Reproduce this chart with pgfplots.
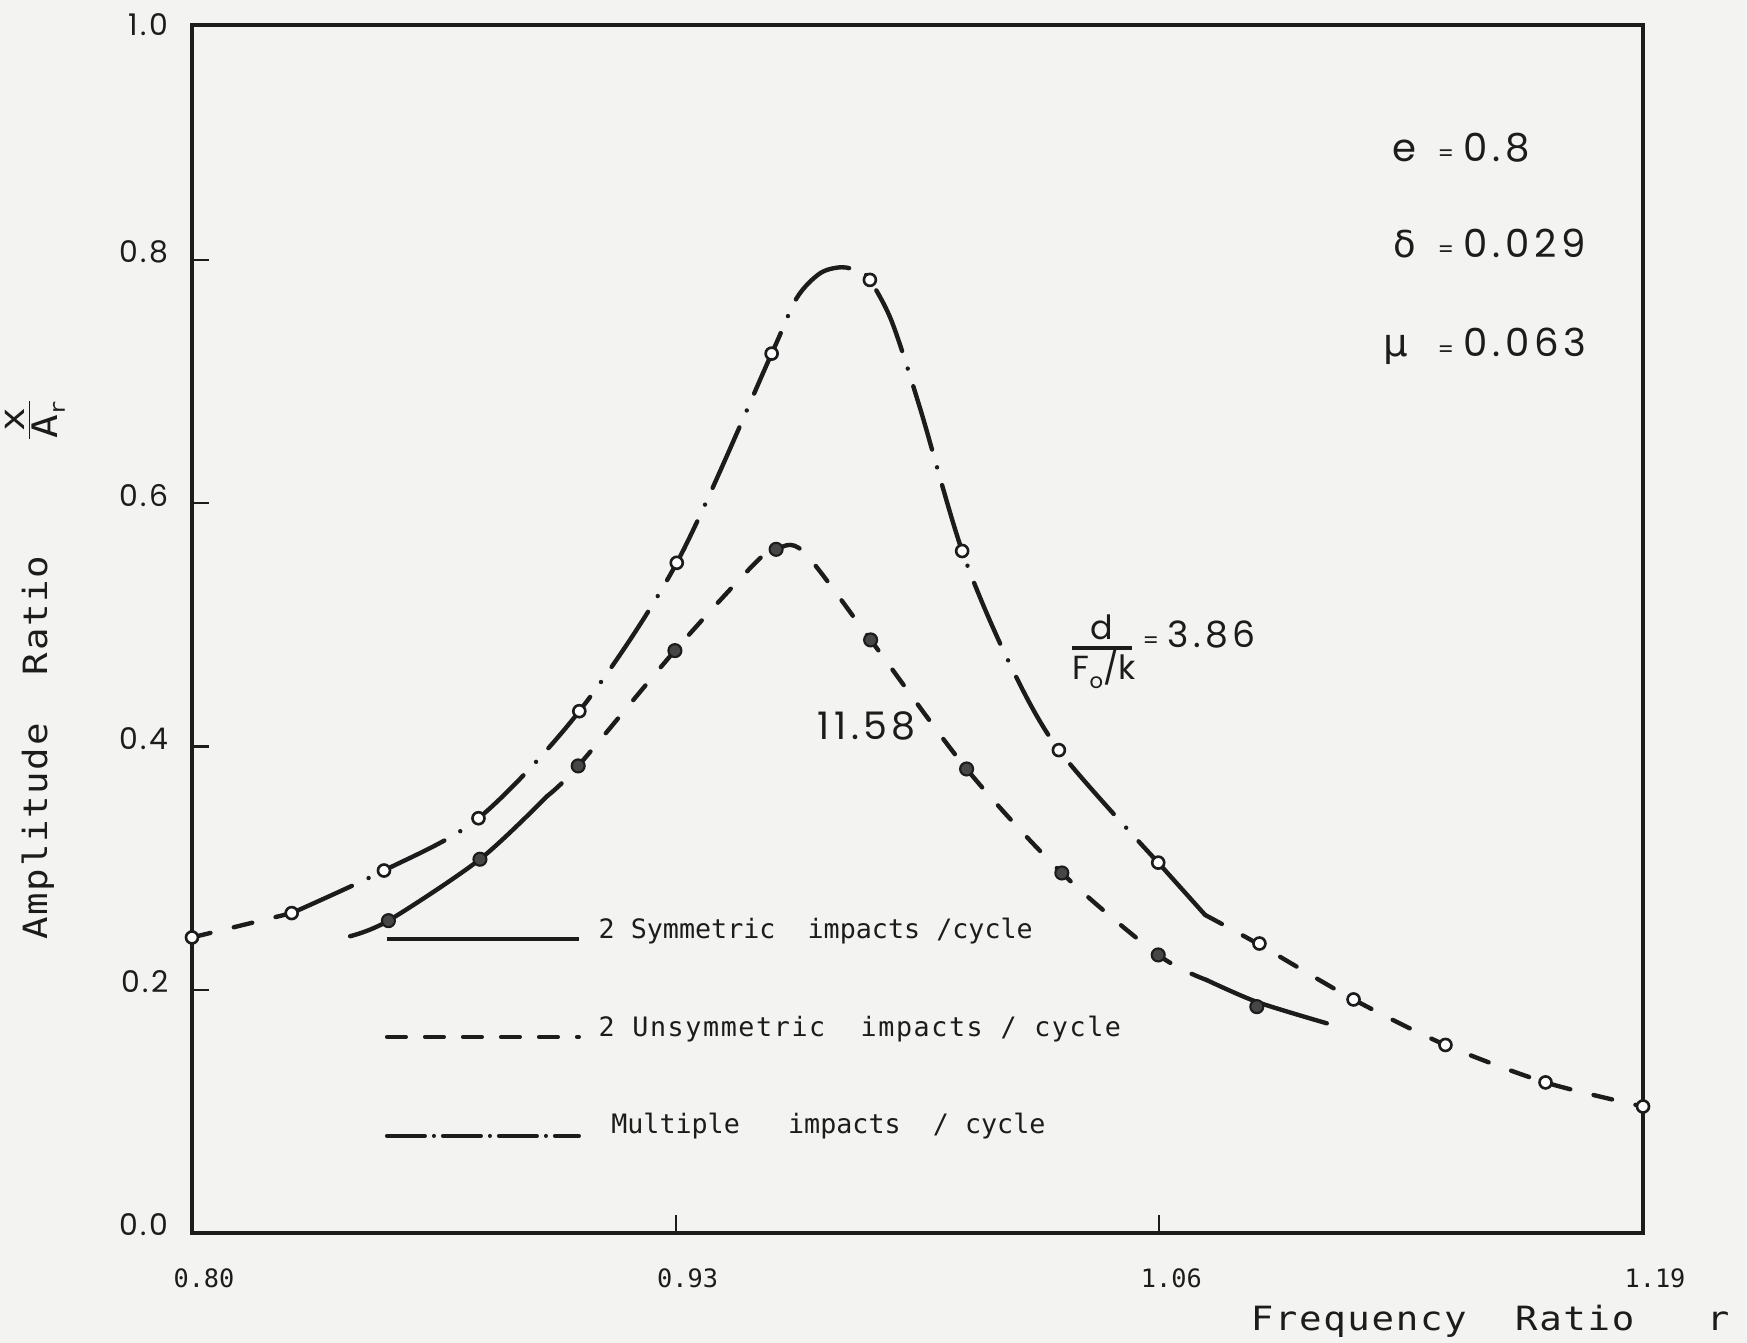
\documentclass[border=0pt]{standalone}
\usepackage{pgfplots}
\pgfplotsset{compat=1.18}
\usepackage{fontspec}
\setmainfont{DejaVu Sans}
\newfontfamily\mono{DejaVu Sans Mono}
\newfontfamily\monoa[LetterSpace=6]{DejaVu Sans Mono}
\newfontfamily\monols[FakeStretch=1.12,LetterSpace=5]{DejaVu Sans Mono}
\newfontfamily\geo{Poppins}
\newfontfamily\geols[LetterSpace=12]{Poppins}
\newfontfamily\geot[LetterSpace=8]{Poppins}
\newfontfamily\grk{DejaVu Sans}
\definecolor{ink}{RGB}{28,28,28}
\definecolor{dotfill}{RGB}{70,70,70}
\definecolor{paper}{RGB}{243,243,241}
\tikzset{
  dsh/.style={dash pattern=on 1.9mm off 2.4mm},
  dd/.style={dash pattern=on 6.6mm off 1.85mm on 0mm off 1.85mm},
  crv/.style={ink, line width=1.25pt, line cap=round, smooth, no markers},
}
\begin{document}
\begin{tikzpicture}
\fill[paper] (-1.92cm,-1.10cm) rectangle (15.55cm,12.33cm);
\begin{axis}[name=ax, scale only axis, width=14.51cm, height=12.08cm,
  xmin=0.80, xmax=1.19, ymin=0, ymax=0.9932,
  xtick={0.80,0.93,1.06,1.19}, xticklabels={0.80,0.93,1.06,1.19},
  ytick={0,0.2,0.4,0.6,0.8}, yticklabels={0.0,0.2,0.4,0.6,0.8},
  extra y ticks={0.9932}, extra y tick labels={1.0},
  extra y tick style={yticklabel style={yshift=-0.75mm}},
  tick align=inside, xtick pos=bottom, ytick pos=left,
  major tick length=1.75mm,
  tick style={line width=0.6pt, ink},
  axis line style={line width=1.3pt, ink},
  xticklabel style={font=\mono\fontsize{7.2}{8}\selectfont, inner sep=0pt, anchor=north, yshift=-3.5mm, xshift=1.2mm, text=ink},
  yticklabel style={font=\geot\fontsize{8.5}{9}\selectfont, inner sep=0pt, anchor=east, xshift=-2.3mm, yshift=0.8mm, text=ink},
  clip=false,
]
% ---- upper curve d/(F0/k)=3.86 (open circles) ----
\addplot[crv, dsh] coordinates {(0.800,0.243) (0.8268,0.263)};
\addplot[crv, dd] coordinates {(0.8268,0.263) (0.8516,0.298) (0.877,0.341) (0.9041,0.429) (0.9303,0.551) (0.9558,0.723) (0.9625,0.7685) (0.9688,0.789) (0.9746,0.794) (0.9795,0.7905) (0.9822,0.7836) (0.9881,0.7493) (0.9957,0.678) (1.007,0.5607) (1.0193,0.4711) (1.033,0.397) (1.0597,0.3045)};
\addplot[crv] coordinates {(1.0597,0.3045) (1.0723,0.2615)};
\addplot[crv, dsh] coordinates {(1.0723,0.2615) (1.0869,0.237) (1.1122,0.192) (1.1369,0.1546) (1.1638,0.1238) (1.19,0.104)};
% ---- lower curve 11.58 (filled circles) ----
\addplot[crv] coordinates {(0.8425,0.2440) (0.8528,0.2568) (0.8774,0.3073) (0.8955,0.3593)};
\addplot[crv, dsh] coordinates {(0.8955,0.3593) (0.9038,0.384) (0.9298,0.4788) (0.9513,0.5506) (0.957,0.5621) (0.9643,0.5602) (0.9824,0.4876) (1.0082,0.3815) (1.0338,0.296) (1.0597,0.2286) (1.0727,0.208)};
\addplot[crv] coordinates {(1.0727,0.208) (1.0862,0.190) (1.105,0.1724)};
% ---- markers ----
\addplot[only marks, mark=*, mark size=0.6mm, mark options={line width=0.75pt, draw=ink, fill=white}] coordinates {
(0.800,0.243) (0.8268,0.263) (0.8516,0.298) (0.877,0.341) (0.9041,0.429) (0.9303,0.551) (0.9558,0.723) (0.9822,0.7836) (1.007,0.5607) (1.033,0.397) (1.0597,0.3045) (1.0869,0.238) (1.1122,0.192) (1.1369,0.1546) (1.1638,0.1238) (1.19,0.104)};
\addplot[only marks, mark=*, mark size=0.65mm, mark options={line width=0.6pt, draw=ink, fill=dotfill}] coordinates {
(0.8528,0.2568) (0.8774,0.3073) (0.9038,0.384) (0.9298,0.4788) (0.957,0.5621) (0.9824,0.4876) (1.0082,0.3815) (1.0338,0.296) (1.0597,0.2286) (1.0862,0.1861)};
% ---- legend samples ----
\addplot[ink, line width=1.15pt, no markers] coordinates {(0.8524,0.2417) (0.9040,0.2417)};
\addplot[ink, line width=1.15pt, line cap=round, no markers, dash pattern=on 1.9mm off 1.9mm] coordinates {(0.8524,0.1612) (0.9040,0.1612)};
\addplot[ink, line width=1.15pt, line cap=round, no markers, dash pattern=on 3.8mm off 0.9mm on 0mm off 0.9mm] coordinates {(0.8524,0.0798) (0.9040,0.0798)};
\node[anchor=west, inner sep=0pt, text=ink, font=\mono\fontsize{7.6}{8}\selectfont] at (axis cs:0.9091,0.2483) {2 Symmetric~~impacts /cycle};
\node[anchor=west, inner sep=0pt, text=ink, font=\monoa\fontsize{7.6}{8}\selectfont] at (axis cs:0.9091,0.1673) {2 Unsymmetric~~impacts / cycle};
\node[anchor=west, inner sep=0pt, text=ink, font=\mono\fontsize{7.6}{8}\selectfont] at (axis cs:0.9125,0.0876) {Multiple~~~impacts~~/~cycle};
% ---- parameters ----
\node[anchor=base west, inner sep=0pt, text=ink, font=\geo\fontsize{11}{12}\selectfont] at (rel axis cs:0.8270,0.8866) {e};
\node[anchor=center, inner sep=0pt, text=ink, font=\geo\fontsize{6.5}{7}\selectfont] at (rel axis cs:0.8642,0.8916) {=};
\node[anchor=base west, inner sep=0pt, text=ink, font=\geols\fontsize{11}{12}\selectfont] at (rel axis cs:0.8759,0.8866) {0.8};
\node[anchor=base west, inner sep=0pt, text=ink, font=\grk\fontsize{10.5}{12}\selectfont] at (rel axis cs:0.8277,0.8079) {δ};
\node[anchor=center, inner sep=0pt, text=ink, font=\geo\fontsize{6.5}{7}\selectfont] at (rel axis cs:0.8642,0.8121) {=};
\node[anchor=base west, inner sep=0pt, text=ink, font=\geols\fontsize{11}{12}\selectfont] at (rel axis cs:0.8759,0.8071) {0.029};
\node[anchor=base west, inner sep=0pt, text=ink, font=\grk\fontsize{11}{12}\selectfont] at (rel axis cs:0.8208,0.7252) {μ};
\node[anchor=center, inner sep=0pt, text=ink, font=\geo\fontsize{6.5}{7}\selectfont] at (rel axis cs:0.8642,0.7293) {=};
\node[anchor=base west, inner sep=0pt, text=ink, font=\geols\fontsize{11}{12}\selectfont] at (rel axis cs:0.8759,0.7252) {0.063};
% ---- curve labels ----
\node[anchor=base, inner sep=0pt, text=ink, font=\geo\fontsize{9.5}{11}\selectfont] at (rel axis cs:0.6272,0.4909) {d};
\draw[ink, line width=0.9pt] (rel axis cs:0.6065,0.4843) -- (rel axis cs:0.6478,0.4843);
\node[anchor=base west, inner sep=0pt, text=ink, font=\geo\fontsize{9.5}{11}\selectfont] at (rel axis cs:0.6065,0.4578) {F\raisebox{-0.45ex}{\fontsize{6}{7}\selectfont o}/k};
\node[anchor=center, inner sep=0pt, text=ink, font=\geo\fontsize{6.5}{7}\selectfont] at (rel axis cs:0.6609,0.4884) {=};
\node[anchor=base west, inner sep=0pt, text=ink, font=\geols\fontsize{10.3}{12}\selectfont] at (rel axis cs:0.6720,0.4843) {3.86};
\node[anchor=base west, inner sep=0pt, text=ink, font=\geols\fontsize{10.8}{12}\selectfont] at (rel axis cs:0.4307,0.4081) {11.58};
% ---- axis titles ----
\node[anchor=base west, inner sep=0pt, text=ink, font=\monols\fontsize{9.5}{11}\selectfont] at (rel axis cs:0.7292,-0.0811) {Frequency~~Ratio~~~r};
\node[rotate=90, anchor=base west, inner sep=0pt, text=ink, font=\monols\fontsize{9.5}{11}\selectfont] at (rel axis cs:-0.0999,0.2425) {Amplitude~~Ratio};
\node[rotate=90, anchor=center, inner sep=0pt, text=ink, font=\monols\fontsize{10}{11}\selectfont] at (rel axis cs:-0.1082,0.6730) {$\frac{\hbox{x}}{\hbox{A\raisebox{-0.4ex}{\fontsize{6}{7}\selectfont r}}}$};
\end{axis}
\pgfresetboundingbox
\path[use as bounding box] (-1.92cm,-1.10cm) rectangle (15.55cm,12.33cm);
\end{tikzpicture}
\end{document}
